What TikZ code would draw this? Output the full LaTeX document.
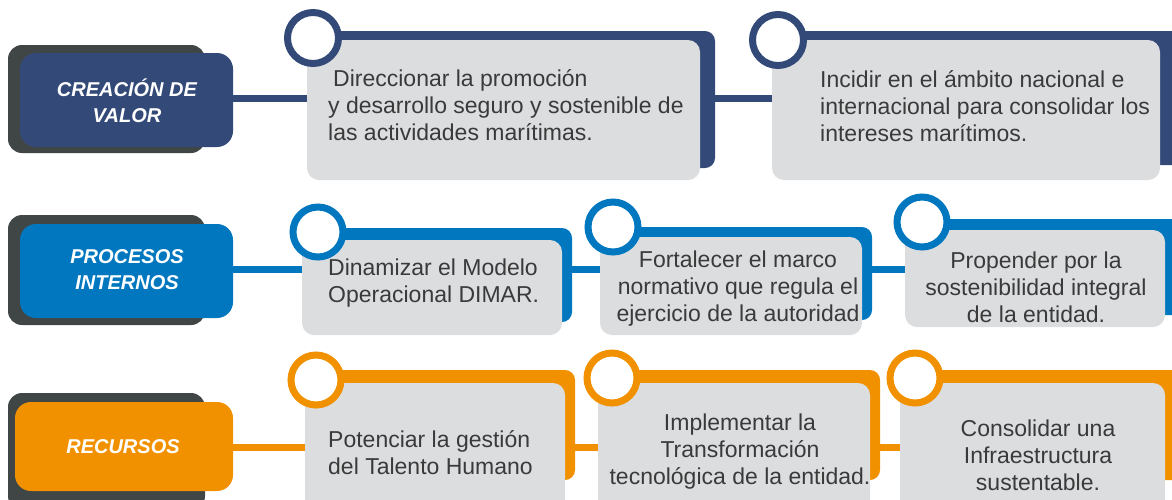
\documentclass[tikz,border=0pt]{standalone}
\usepackage{fontspec}
\setmainfont{Liberation Sans}
\usetikzlibrary{backgrounds}
\definecolor{navy}{HTML}{334A78}
\definecolor{azul}{HTML}{0077BE}
\definecolor{naranja}{HTML}{F29100}
\definecolor{sombra}{HTML}{404546}
\definecolor{tarjeta}{HTML}{DCDDDF}
\definecolor{texto}{HTML}{3A3A3A}
\tikzset{
  box/.style={inner sep=0, outer sep=0, draw=none},
  shadowbox/.style={box, fill=sombra, rounded corners=14pt},
  labelbox/.style={box, fill=#1, rounded corners=16pt},
  backbox/.style={box, fill=#1, rounded corners=10pt},
  cardbox/.style={box, fill=tarjeta, rounded corners=12pt},
  ring/.style={circle, draw=#1, line width=7pt, fill=white, inner sep=0, minimum size=50pt},
  labeltext/.style={text=white, font=\fontsize{20}{26}\selectfont\bfseries\itshape, align=center},
  cardtext/.style={text=texto, inner sep=0, font=\fontsize{23}{27}\selectfont},
  conn/.style={draw=#1, line width=7pt},
}
\begin{document}
\begin{tikzpicture}[x=1pt,y=-1pt]
\useasboundingbox (0,0) rectangle (1172,499);
% ---------- Row 1 : Creacion de valor ----------
\coordinate (r1) at (0,98);
\node[shadowbox, minimum width=197, minimum height=108] (s1) at (106.5,99) {};
\node[labelbox=navy, minimum width=213, minimum height=94] (l1) at (126.5,100) {};
\node[labeltext] (lt1) at (127,101) {CREACIÓN DE\\VALOR};
\node[backbox=navy, minimum width=400, minimum height=137] (b11) at (515,99.5) {};
\node[cardbox, minimum width=393, minimum height=140] (c11) at (503.5,110) {};
\node[ring=navy, minimum size=51] (o11) at (313,38) {};
\node[cardtext, anchor=west, align=left] (t11) at (328,105.5) {\hspace{5pt}Direccionar la promoción\\y desarrollo seguro y sostenible de\\las actividades marítimas.};
\node[backbox=navy, minimum width=406, minimum height=134] (b12) at (987,98) {};
\node[cardbox, minimum width=388, minimum height=140] (c12) at (966,110) {};
\node[ring=navy, minimum size=51] (o12) at (778,40) {};
\node[cardtext, anchor=west, align=left] (t12) at (820,106) {Incidir en el ámbito nacional e\\internacional para consolidar los\\intereses marítimos.};
% ---------- Row 2 : Procesos internos ----------
\coordinate (r2) at (0,269);
\node[shadowbox, minimum width=197, minimum height=110] (s2) at (106.5,270) {};
\node[labelbox=azul, minimum width=213, minimum height=94] (l2) at (126.5,271) {};
\node[labeltext] (lt2) at (127,270) {PROCESOS\\INTERNOS};
\node[backbox=azul, minimum width=262, minimum height=94] (b21) at (441,275) {};
\node[cardbox, minimum width=260, minimum height=95] (c21) at (432,287.5) {};
\node[ring=azul] (o21) at (318,232) {};
\node[cardtext, anchor=west, align=left] (t21) at (328,283) {Dinamizar el Modelo\\Operacional DIMAR.};
\node[backbox=azul, minimum width=262, minimum height=93] (b22) at (741,273.5) {};
\node[cardbox, minimum width=262, minimum height=98] (c22) at (731,286) {};
\node[ring=azul] (o22) at (613,227) {};
\node[cardtext, align=center] (t22) at (738,289) {Fortalecer el marco\\normativo que regula el\\ejercicio de la autoridad};
\node[backbox=azul, minimum width=275, minimum height=96] (b23) at (1052.5,267) {};
\node[cardbox, minimum width=260, minimum height=97] (c23) at (1035,278.5) {};
\node[ring=azul] (o23) at (922,222) {};
\node[cardtext, align=center] (t23) at (1036,287) {Propender por la\\sostenibilidad integral\\de la entidad.};
% ---------- Row 3 : Recursos ----------
\coordinate (r3) at (0,447);
\node[shadowbox, minimum width=197, minimum height=117] (s3) at (106.5,451.5) {};
\node[labelbox=naranja, minimum width=218, minimum height=89] (l3) at (124,446.5) {};
\node[labeltext] (lt3) at (123,447) {RECURSOS};
\node[backbox=naranja, minimum width=260, minimum height=110] (b31) at (445,425) {};
\node[cardbox, minimum width=260, minimum height=132] (c31) at (435,449) {};
\node[ring=naranja] (o31) at (316,380) {};
\node[cardtext, anchor=west, align=left] (t31) at (328,453) {Potenciar la gestión\\del Talento Humano};
\node[backbox=naranja, minimum width=272, minimum height=110] (b32) at (744,425) {};
\node[cardbox, minimum width=272, minimum height=132] (c32) at (734,449) {};
\node[ring=naranja] (o32) at (612,378) {};
\node[cardtext, align=center] (t32) at (740,452) {Implementar la\\Transformación\\tecnológica de la entidad.};
\node[backbox=naranja, minimum width=280, minimum height=110] (b33) at (1050,425) {};
\node[cardbox, minimum width=265, minimum height=132] (c33) at (1032.5,449) {};
\node[ring=naranja] (o33) at (915,378) {};
\node[cardtext, align=center] (t33) at (1038,455) {Consolidar una\\Infraestructura\\sustentable.};
% ---------- connectors ----------
\begin{scope}[on background layer]
\draw[conn=navy] (l1.east |- r1) -- (c11.west |- r1);
\draw[conn=navy] (b11.east |- r1) -- (c12.west |- r1);
\draw[conn=azul] (l2.east |- r2) -- (c21.west |- r2);
\draw[conn=azul] (b21.east |- r2) -- (c22.west |- r2);
\draw[conn=azul] (b22.east |- r2) -- (c23.west |- r2);
\draw[conn=naranja] (l3.east |- r3) -- (c31.west |- r3);
\draw[conn=naranja] (b31.east |- r3) -- (c32.west |- r3);
\draw[conn=naranja] (b32.east |- r3) -- (c33.west |- r3);
\end{scope}
\end{tikzpicture}
\end{document}
